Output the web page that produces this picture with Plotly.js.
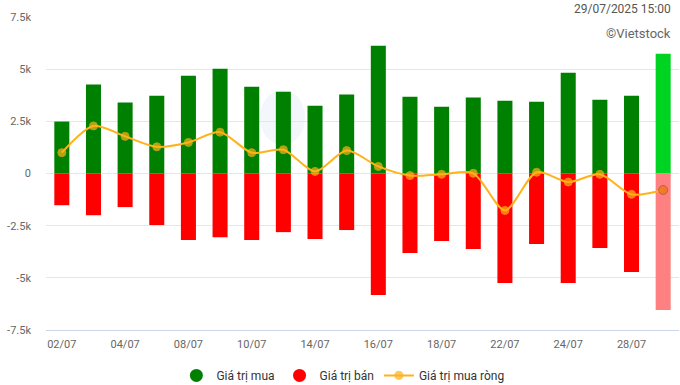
<!DOCTYPE html>
<html>
<head>
<meta charset="utf-8">
<script src="https://cdn.plot.ly/plotly-3.0.1.min.js"></script>
<style>
  html, body { margin: 0; padding: 0; background: #fff; }
  #chart { width: 680px; height: 385px; }
</style>
</head>
<body>
<div id="chart"></div>
<script>
// Categories (trading days, July 2025)
var dates = ["02/07","03/07","04/07","07/07","08/07","09/07","10/07","11/07","14/07","15/07",
             "16/07","17/07","18/07","21/07","22/07","23/07","24/07","25/07","28/07","29/07"];
// Buy value (Giá trị mua)
var buyValues = [2490, 4260, 3400, 3730, 4690, 5020, 4160, 3920, 3250, 3780,
                 6120, 3680, 3200, 3640, 3490, 3440, 4830, 3540, 3730, 5740];
// Sell value (Giá trị bán), negative
var sellValues = [-1520, -2000, -1610, -2470, -3190, -3050, -3190, -2810, -3140, -2710,
                  -5820, -3810, -3240, -3620, -5250, -3380, -5250, -3570, -4720, -6540];
// Net buy value (Giá trị mua ròng)
var netValues = [1000, 2280, 1780, 1280, 1490, 1980, 1000, 1140, 100, 1100,
                 340, -100, -40, 10, -1770, 60, -410, -40, -1000, -790];
// Tick labels
var yTickVals = [7500, 5000, 2500, 0, -2500, -5000, -7500];
var yTickText = ["7.5k", "5k", "2.5k", "0", "-2.5k", "-5k", "-7.5k"];
var xTickVals = dates.filter(function (d, i) { return i % 2 === 0; });

var n = dates.length;
var buyColors = dates.map(function (d, i) { return i === n - 1 ? "#00D422" : "#008000"; });
var sellColors = dates.map(function (d, i) { return i === n - 1 ? "#FF8080" : "#FF0000"; });
var netColors = dates.map(function (d, i) { return i === n - 1 ? "#F07010" : "#FFB21A"; });
var netLineColors = dates.map(function (d, i) { return i === n - 1 ? "#A05A20" : "#FFB21A"; });
var netSizes = dates.map(function (d, i) { return i === n - 1 ? 9 : 8; });

var traces = [
  { type: "bar", x: dates, y: buyValues, marker: { color: buyColors }, showlegend: false,
    name: "Giá trị mua", hoverinfo: "x+y" },
  { type: "bar", x: dates, y: sellValues, marker: { color: sellColors }, showlegend: false,
    name: "Giá trị bán", hoverinfo: "x+y" },
  { type: "scatter", mode: "markers", x: [null], y: [null], name: "Giá trị mua",
    marker: { color: "#008000", size: 13, symbol: "circle" } },
  { type: "scatter", mode: "markers", x: [null], y: [null], name: "Giá trị bán",
    marker: { color: "#FF0000", size: 13, symbol: "circle" } },
  { type: "scatter", mode: "lines+markers", x: dates, y: netValues, name: "Giá trị mua ròng",
    line: { color: "#FFB21A", width: 2, shape: "spline", smoothing: 0.8 },
    marker: { color: netColors, size: netSizes, line: { color: netLineColors, width: 1 } } }
];

var layout = {
  width: 680, height: 385,
  margin: { l: 46, r: 1, t: 17, b: 55, autoexpand: false },
  paper_bgcolor: "#ffffff", plot_bgcolor: "#ffffff",
  font: { family: "Roboto, 'Noto Sans', sans-serif", size: 11, color: "#666666" },
  barmode: "relative",
  bargap: 0.525,
  xaxis: {
    type: "category", categoryorder: "array", categoryarray: dates,
    range: [-0.5, n - 0.5],
    tickmode: "array", tickvals: xTickVals, ticktext: xTickVals,
    showgrid: false, zeroline: false,
    showline: true, linecolor: "#ccd6eb", linewidth: 1,
    ticks: "", ticklabelstandoff: 4,
    tickfont: { size: 11, color: "#666666" }, fixedrange: true
  },
  yaxis: {
    range: [-7500, 7500],
    tickmode: "array", tickvals: yTickVals, ticktext: yTickText,
    showgrid: true, gridcolor: "#e6e6e6", gridwidth: 1,
    zeroline: true, zerolinecolor: "#e6e6e6", zerolinewidth: 1,
    showline: false, ticks: "", ticklabelstandoff: 14,
    tickfont: { size: 11, color: "#666666" }, fixedrange: true
  },
  showlegend: true,
  legend: {
    orientation: "h", x: 0.469, xanchor: "center", y: -0.145, yanchor: "middle",
    font: { size: 12, color: "#333333" }, traceorder: "normal",
    itemwidth: 30, bgcolor: "rgba(0,0,0,0)"
  },
  shapes: [
    { type: "circle", xref: "paper", yref: "paper", layer: "below",
      x0: (260 - 46) / 633, x1: (305 - 46) / 633, y0: (330 - 145) / 313, y1: (330 - 90) / 313,
      fillcolor: "#f3f6fa", line: { width: 0 } }
  ],
  annotations: [
    { xref: "paper", yref: "paper", x: (673 - 46) / 633, y: (330 - 9) / 313,
      xanchor: "right", yanchor: "middle", showarrow: false,
      text: "29/07/2025 15:00", font: { size: 12, color: "#555555" } },
    { xref: "paper", yref: "paper", x: (673 - 46) / 633, y: (330 - 33) / 313,
      xanchor: "right", yanchor: "middle", showarrow: false,
      text: "©Vietstock", font: { size: 13, color: "#666666" } }
  ]
};

Plotly.newPlot("chart", traces, layout, { displayModeBar: false, staticPlot: true });
</script>
</body>
</html>
